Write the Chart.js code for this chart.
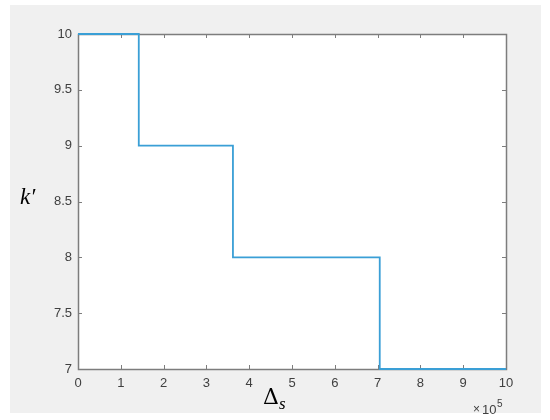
<!DOCTYPE html>
<html>
<head>
<meta charset="utf-8">
<script src="https://cdn.jsdelivr.net/npm/chart.js@4"></script>
<style>
  body { margin: 0; background: #fff; }
  #grafico { display: block; }
</style>
</head>
<body>
<canvas id="grafico" width="550" height="420"></canvas>
<script>
    // step positions on the x axis (raw units, axis shows them / 1e5)
    var xDegraus = [0, 1.42e5, 3.62e5, 7.05e5, 10e5];
    // k' level held after each step start
    var kValores = [10, 9, 8, 7];
    var xTicks = [0, 1e5, 2e5, 3e5, 4e5, 5e5, 6e5, 7e5, 8e5, 9e5, 10e5];
    var yTicks = [7, 7.5, 8, 8.5, 9, 9.5, 10];

    var pontos = [];
    xDegraus.forEach(function (x, i) {
        var k = i < kValores.length ? kValores[i] : kValores[kValores.length - 1];
        pontos.push({ x: x, y: k });
    });

    var corEixo = '#7d7d7d';
    var corTexto = '#404040';

    // gray figure, white axes, box with inward ticks, axis labels
    var moldura = {
        id: 'moldura',
        beforeDraw: function (chart) {
            var ctx = chart.ctx, a = chart.chartArea;
            ctx.save();
            ctx.fillStyle = '#ffffff';
            ctx.fillRect(0, 0, chart.width, chart.height);
            ctx.fillStyle = '#f0f0f0';
            ctx.fillRect(10, 5, 531, 408);
            ctx.fillStyle = '#ffffff';
            ctx.fillRect(a.left, a.top, a.right - a.left, a.bottom - a.top);
            ctx.restore();
        },
        beforeDatasetsDraw: function (chart) {
            var ctx = chart.ctx, a = chart.chartArea;
            var sx = chart.scales.x, sy = chart.scales.y;
            ctx.save();
            ctx.strokeStyle = corEixo;
            ctx.lineWidth = 1;
            ctx.beginPath();
            xTicks.forEach(function (v) {
                var px = Math.round(sx.getPixelForValue(v)) + 0.5;
                ctx.moveTo(px, a.bottom); ctx.lineTo(px, a.bottom - 4);
                ctx.moveTo(px, a.top); ctx.lineTo(px, a.top + 4);
            });
            yTicks.forEach(function (v) {
                var py = Math.round(sy.getPixelForValue(v)) + 0.5;
                ctx.moveTo(a.left, py); ctx.lineTo(a.left + 4, py);
                ctx.moveTo(a.right, py); ctx.lineTo(a.right - 4, py);
            });
            ctx.stroke();
            ctx.lineWidth = 1.5;
            ctx.strokeRect(Math.round(a.left) + 0.5, Math.round(a.top) + 0.5,
                Math.round(a.right - a.left), Math.round(a.bottom - a.top));
            ctx.restore();
        },
        afterDraw: function (chart) {
            var ctx = chart.ctx;
            ctx.save();
            ctx.fillStyle = '#000';
            ctx.textBaseline = 'alphabetic';
            // y label k'
            ctx.font = 'italic 23px "Liberation Serif"';
            ctx.textAlign = 'left';
            ctx.fillText('k\u2032', 20, 204);
            // x label Delta_s
            ctx.font = '22px "DejaVu Serif"';
            ctx.fillText('\u0394', 263, 404);
            ctx.font = 'italic 17px "Liberation Serif"';
            ctx.fillText('s', 279, 409);
            // exponent
            ctx.fillStyle = corTexto;
            ctx.font = '12px "Liberation Sans"';
            ctx.fillText('\u00d7', 473, 413);
            ctx.font = '13px "Liberation Sans"';
            ctx.fillText('10', 482, 414);
            ctx.font = '10px "Liberation Sans"';
            ctx.fillText('5', 497, 407);
            ctx.restore();
        }
    };

    var graficoDegraus = new Chart(document.getElementById('grafico'), {
        type: 'line',
        data: {
            datasets: [{
                data: pontos,
                stepped: 'before',
                borderColor: '#3a9fd6',
                borderWidth: 1.8,
                pointRadius: 0,
                fill: false,
                clip: false
            }]
        },
        options: {
            responsive: false,
            animation: false,
            layout: { padding: { top: 34, right: 44, left: 0, bottom: 0 } },
            plugins: { legend: { display: false }, tooltip: { enabled: false } },
            scales: {
                x: {
                    type: 'linear',
                    min: 0,
                    max: 10e5,
                    afterBuildTicks: function (scale) {
                        scale.ticks = xTicks.map(function (v) { return { value: v }; });
                    },
                    afterFit: function (scale) { scale.height = 51; },
                    grid: { display: false, drawTicks: false },
                    border: { display: false },
                    ticks: {
                        maxRotation: 0,
                        padding: 7,
                        color: corTexto,
                        font: { family: '"Liberation Sans"', size: 13 },
                        callback: function (v) { return String(v / 1e5); }
                    }
                },
                y: {
                    type: 'linear',
                    min: 7,
                    max: 10,
                    afterBuildTicks: function (scale) {
                        scale.ticks = yTicks.map(function (v) { return { value: v }; });
                    },
                    afterFit: function (scale) { scale.width = 78; },
                    grid: { display: false, drawTicks: false },
                    border: { display: false },
                    ticks: {
                        padding: 6,
                        color: corTexto,
                        font: { family: '"Liberation Sans"', size: 13 },
                        callback: function (v) { return String(v); }
                    }
                }
            }
        },
        plugins: [moldura]
    });
</script>
</body>
</html>
